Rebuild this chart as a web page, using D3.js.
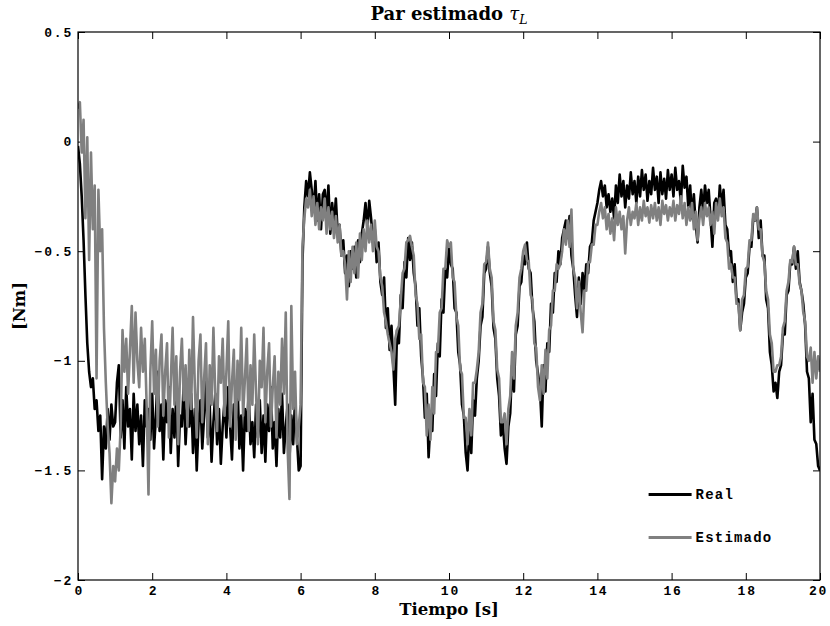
<!DOCTYPE html>
<html>
<head>
<meta charset="utf-8">
<script src="https://cdn.jsdelivr.net/npm/d3@7"></script>
<style>
  body { margin: 0; background: #fff; }
  .tick text { font-family: "Liberation Mono", monospace; font-weight: bold; font-size: 13px; letter-spacing: 1.8px; }
</style>
</head>
<body>
<div id="chart"></div>
<script>
// sampled every 0.05 s, from 0 to 20 s
const dt = 0.05;

const real = [
  -0.02,-0.10,-0.25,-0.45,-0.70,-0.92,-1.05,-1.12,-1.08,-1.22,-1.18,-1.32,-1.25,-1.54,-1.30,-1.40,-1.22,-1.36,-1.20,-1.30,
  -1.28,-1.10,-1.02,-1.35,-1.18,-1.40,-1.12,-1.30,-1.22,-1.45,-1.15,-1.32,-1.20,-1.38,-1.25,-1.48,-1.18,-1.30,-1.22,-1.36,
  -1.15,-1.40,-1.25,-1.05,-1.32,-1.20,-1.45,-1.18,-1.28,-1.12,-1.42,-1.22,-1.35,-1.15,-1.48,-1.25,-1.30,-1.10,-1.38,-1.20,
  -1.30,-1.15,-1.42,-1.22,-1.50,-1.28,-1.18,-1.40,-1.25,-1.08,-1.35,-1.20,-1.46,-1.28,-1.15,-1.38,-1.22,-1.47,-1.30,-1.18,
  -1.35,-1.12,-1.30,-1.45,-1.20,-1.28,-1.10,-1.40,-1.25,-1.50,-1.22,-1.32,-1.15,-1.38,-1.28,-1.44,-1.20,-1.35,-1.18,-1.42,
  -1.25,-1.46,-1.20,-1.32,-1.12,-1.40,-1.28,-1.48,-1.22,-1.35,-1.15,-1.42,-1.30,-1.20,-1.45,-1.25,-1.38,-1.18,-1.35,-1.50,
  -1.48,-0.55,-0.30,-0.18,-0.25,-0.14,-0.22,-0.32,-0.18,-0.36,-0.24,-0.40,-0.24,-0.22,-0.34,-0.20,-0.42,-0.28,-0.38,-0.26,
  -0.42,-0.38,-0.52,-0.45,-0.60,-0.52,-0.66,-0.50,-0.58,-0.48,-0.62,-0.45,-0.55,-0.42,-0.36,-0.28,-0.40,-0.27,-0.35,-0.45,
  -0.40,-0.55,-0.46,-0.64,-0.70,-0.62,-0.85,-0.76,-0.95,-0.84,-1.02,-1.20,-0.86,-0.92,-0.70,-0.76,-0.55,-0.62,-0.44,-0.54,
  -0.46,-0.60,-0.66,-0.84,-0.76,-0.98,-1.08,-1.26,-1.15,-1.44,-1.28,-1.32,-1.06,-1.16,-0.92,-0.98,-0.72,-0.78,-0.58,-0.62,
  -0.48,-0.56,-0.58,-0.76,-0.78,-0.96,-1.02,-1.20,-1.25,-1.42,-1.50,-1.30,-1.42,-1.18,-1.25,-1.08,-1.00,-0.84,-0.80,-0.60,
  -0.58,-0.48,-0.60,-0.66,-0.85,-0.90,-1.08,-1.16,-1.34,-1.28,-1.40,-1.47,-1.30,-1.24,-1.02,-1.14,-0.88,-0.84,-0.66,-0.64,
  -0.52,-0.56,-0.46,-0.58,-0.60,-0.76,-0.82,-1.00,-1.06,-1.12,-1.30,-1.02,-1.14,-0.92,-0.96,-0.74,-0.78,-0.60,-0.64,-0.50,
  -0.56,-0.44,-0.40,-0.36,-0.44,-0.34,-0.52,-0.58,-0.70,-0.80,-0.62,-0.74,-0.60,-0.68,-0.56,-0.60,-0.48,-0.46,-0.36,-0.32,
  -0.28,-0.22,-0.18,-0.25,-0.20,-0.30,-0.24,-0.32,-0.26,-0.35,-0.20,-0.28,-0.15,-0.25,-0.18,-0.30,-0.20,-0.26,-0.14,-0.24,
  -0.18,-0.28,-0.16,-0.25,-0.13,-0.22,-0.15,-0.27,-0.18,-0.24,-0.12,-0.22,-0.16,-0.28,-0.14,-0.24,-0.17,-0.26,-0.13,-0.22,
  -0.15,-0.25,-0.12,-0.22,-0.18,-0.28,-0.11,-0.21,-0.16,-0.30,-0.20,-0.35,-0.24,-0.38,-0.46,-0.30,-0.22,-0.32,-0.20,-0.28,
  -0.22,-0.35,-0.48,-0.28,-0.26,-0.34,-0.20,-0.30,-0.22,-0.38,-0.40,-0.52,-0.50,-0.64,-0.56,-0.72,-0.72,-0.86,-0.78,-0.74,
  -0.62,-0.60,-0.48,-0.48,-0.35,-0.36,-0.30,-0.44,-0.36,-0.52,-0.52,-0.72,-0.76,-0.96,-1.02,-1.14,-1.10,-1.17,-1.05,-1.02,
  -0.88,-0.88,-0.70,-0.68,-0.55,-0.56,-0.48,-0.58,-0.50,-0.64,-0.68,-0.74,-0.84,-1.05,-1.08,-1.28,-1.15,-1.36,-1.38,-1.48,
  -1.50
];

const estimado = [
   0.15, 0.18,-0.05, 0.10,-0.35, 0.02,-0.54,-0.05,-0.40,-0.20,-1.08,-0.22,-0.50,-0.40,-0.85,-1.10,-1.30,-1.42,-1.65,-1.48,
  -1.55,-1.40,-1.50,-1.30,-0.86,-1.05,-0.90,-1.15,-0.95,-0.75,-1.10,-0.78,-1.00,-1.12,-0.85,-1.05,-0.90,-1.20,-1.61,-1.05,
  -0.82,-1.15,-0.95,-1.30,-1.00,-0.88,-1.25,-1.05,-0.92,-1.35,-1.10,-0.85,-1.20,-0.98,-1.38,-1.05,-0.90,-1.18,-1.02,-1.30,
  -0.95,-1.22,-0.80,-1.12,-1.35,-1.00,-0.88,-1.28,-1.08,-0.92,-1.38,-1.02,-1.20,-0.85,-1.15,-1.32,-0.98,-1.10,-0.90,-1.25,
  -1.05,-0.82,-1.30,-1.10,-0.95,-1.36,-1.00,-1.18,-0.85,-1.25,-1.08,-0.90,-1.32,-1.02,-1.20,-0.88,-1.15,-1.38,-1.00,-1.12,
  -0.85,-1.28,-1.05,-0.92,-1.30,-1.12,-0.98,-1.35,-1.05,-1.20,-0.90,-1.15,-0.78,-1.40,-1.63,-0.75,-1.22,-1.05,-1.38,-1.30,
  -1.20,-0.48,-0.35,-0.26,-0.30,-0.22,-0.34,-0.25,-0.38,-0.28,-0.40,-0.30,-0.36,-0.26,-0.42,-0.30,-0.40,-0.32,-0.44,-0.34,
  -0.46,-0.38,-0.52,-0.50,-0.56,-0.72,-0.50,-0.64,-0.48,-0.60,-0.46,-0.62,-0.42,-0.54,-0.40,-0.50,-0.36,-0.46,-0.38,-0.50,
  -0.36,-0.48,-0.50,-0.62,-0.66,-0.78,-0.82,-0.88,-0.92,-0.96,-1.04,-0.90,-0.86,-0.84,-0.72,-0.60,-0.58,-0.46,-0.45,-0.43,
  -0.48,-0.52,-0.70,-0.74,-0.90,-0.88,-1.10,-1.12,-1.34,-1.20,-1.36,-1.12,-1.24,-0.96,-0.96,-0.78,-0.76,-0.58,-0.58,-0.45,
  -0.48,-0.46,-0.62,-0.64,-0.80,-0.84,-1.04,-1.06,-1.26,-1.26,-1.38,-1.22,-1.34,-1.10,-1.10,-1.04,-0.96,-0.78,-0.74,-0.56,
  -0.55,-0.46,-0.58,-0.62,-0.82,-0.86,-1.04,-1.08,-1.28,-1.28,-1.24,-1.38,-1.22,-1.16,-0.96,-1.08,-0.84,-0.78,-0.62,-0.58,
  -0.50,-0.47,-0.54,-0.55,-0.70,-0.72,-0.92,-0.94,-1.12,-1.18,-1.02,-1.15,-0.95,-1.08,-0.86,-0.84,-0.68,-0.68,-0.56,-0.58,
  -0.56,-0.50,-0.40,-0.47,-0.36,-0.48,-0.31,-0.58,-0.62,-0.76,-0.64,-0.78,-0.87,-0.68,-0.68,-0.55,-0.55,-0.47,-0.47,-0.38,
  -0.38,-0.32,-0.28,-0.35,-0.30,-0.40,-0.33,-0.42,-0.35,-0.45,-0.30,-0.38,-0.32,-0.40,-0.34,-0.51,-0.36,-0.30,-0.38,-0.32,
  -0.35,-0.28,-0.38,-0.30,-0.36,-0.27,-0.34,-0.30,-0.37,-0.29,-0.35,-0.28,-0.36,-0.30,-0.38,-0.27,-0.33,-0.29,-0.36,-0.30,
  -0.34,-0.27,-0.36,-0.29,-0.33,-0.25,-0.35,-0.28,-0.38,-0.30,-0.36,-0.28,-0.40,-0.32,-0.45,-0.35,-0.30,-0.38,-0.28,-0.34,
  -0.30,-0.38,-0.32,-0.42,-0.28,-0.36,-0.26,-0.34,-0.30,-0.44,-0.46,-0.58,-0.56,-0.62,-0.62,-0.74,-0.74,-0.86,-0.72,-0.70,
  -0.58,-0.57,-0.45,-0.45,-0.33,-0.36,-0.30,-0.40,-0.40,-0.52,-0.55,-0.68,-0.72,-0.88,-0.92,-1.05,-1.05,-1.02,-1.02,-0.98,
  -0.85,-0.82,-0.68,-0.64,-0.54,-0.55,-0.48,-0.56,-0.56,-0.65,-0.68,-0.78,-0.82,-0.98,-1.00,-0.94,-1.10,-0.96,-1.08,-0.98,
  -1.05
];

const xTicks = [0, 2, 4, 6, 8, 10, 12, 14, 16, 18, 20];
const yTicks = [-2, -1.5, -1, -0.5, 0, 0.5];
const seriesNames = ["Real", "Estimado"];
const seriesColors = ["#000000", "#808080"];

let width = 830;
let height = 626;
let margin = { left: 78, right: 10, top: 32, bottom: 46 };
let innerW = width - margin.left - margin.right;
let innerH = height - margin.top - margin.bottom;

let svg = d3
  .select("#chart")
  .append("svg")
  .attr("width", width)
  .attr("height", height);

let g = svg.append("g").attr("transform", `translate(${margin.left}, ${margin.top})`);

let xScale = d3.scaleLinear().domain([0, 20]).range([0, innerW]);
let yScale = d3.scaleLinear().domain([-2, 0.5]).range([innerH, 0]);

let fmt = (d) => String(d).replace("-", "\u2212");

// axes with inward ticks on all four sides (matlab box)
g.append("g")
  .attr("transform", `translate(0, ${innerH})`)
  .call(d3.axisBottom(xScale).tickValues(xTicks).tickSize(-7).tickPadding(6).tickFormat(fmt))
  .call((a) => a.select(".domain").remove())
  .selectAll(".tick text").attr("dx", (d) => (d === 20 ? "-2px" : "0.9px"));
g.append("g")
  .call(d3.axisTop(xScale).tickValues(xTicks).tickSize(-7).tickFormat(""))
  .call((a) => a.select(".domain").remove());
g.append("g")
  .call(d3.axisLeft(yScale).tickValues(yTicks).tickSize(-7).tickPadding(5).tickFormat(fmt))
  .call((a) => a.select(".domain").remove());
g.append("g")
  .attr("transform", `translate(${innerW}, 0)`)
  .call(d3.axisRight(yScale).tickValues(yTicks).tickSize(-7).tickFormat(""))
  .call((a) => a.select(".domain").remove());

g.selectAll(".tick line").attr("stroke", "#000").attr("stroke-width", 1);

let line = d3
  .line()
  .x((d, i) => xScale(i * dt))
  .y((d) => yScale(d));

g.append("clipPath").attr("id", "clip")
  .append("rect").attr("width", innerW).attr("height", innerH);

[real, estimado].forEach((s, k) => {
  g.append("path")
    .datum(s)
    .attr("clip-path", "url(#clip)")
    .attr("fill", "none")
    .attr("stroke", seriesColors[k])
    .attr("stroke-width", 2.6)
    .attr("stroke-linejoin", "round")
    .attr("d", line);
});

g.append("rect")
  .attr("width", innerW)
  .attr("height", innerH)
  .attr("fill", "none")
  .attr("stroke", "#000")
  .attr("stroke-width", 1.2);

// legend
let legend = g.append("g").attr("transform", `translate(${xScale(15.38)}, ${yScale(-1.61)})`);
seriesNames.forEach((name, k) => {
  let row = legend.append("g").attr("transform", `translate(0, ${k * 43})`);
  row.append("line")
    .attr("x1", 0).attr("x2", 43)
    .attr("stroke", seriesColors[k])
    .attr("stroke-width", 2.8);
  row.append("text")
    .attr("x", 47).attr("y", 4.5)
    .attr("font-family", "Liberation Mono, monospace")
    .attr("font-weight", "bold")
    .attr("font-size", 14)
    .attr("letter-spacing", 1.2)
    .text(name);
});

// title and axis labels
let title = svg.append("text")
  .attr("x", margin.left + innerW / 2)
  .attr("y", 20)
  .attr("text-anchor", "middle")
  .attr("font-family", "DejaVu Serif, serif")
  .attr("font-weight", "bold")
  .attr("font-size", 18);
title.append("tspan").text("Par estimado ");
title.append("tspan").attr("font-style", "italic").attr("font-weight", "normal").text("\u03c4");
title.append("tspan").attr("font-style", "italic").attr("font-weight", "normal")
  .attr("font-size", 12.5).attr("dy", 4).text("L");

svg.append("text")
  .attr("x", margin.left + innerW / 2)
  .attr("y", 615)
  .attr("text-anchor", "middle")
  .attr("font-family", "DejaVu Serif, serif")
  .attr("font-weight", "bold")
  .attr("font-size", 16.5)
  .text("Tiempo [s]");

svg.append("text")
  .attr("transform", `translate(25, ${margin.top + innerH / 2}) rotate(-90)`)
  .attr("text-anchor", "middle")
  .attr("font-family", "DejaVu Serif, serif")
  .attr("font-weight", "bold")
  .attr("font-size", 16.5)
  .text("[Nm]");
</script>
</body>
</html>
